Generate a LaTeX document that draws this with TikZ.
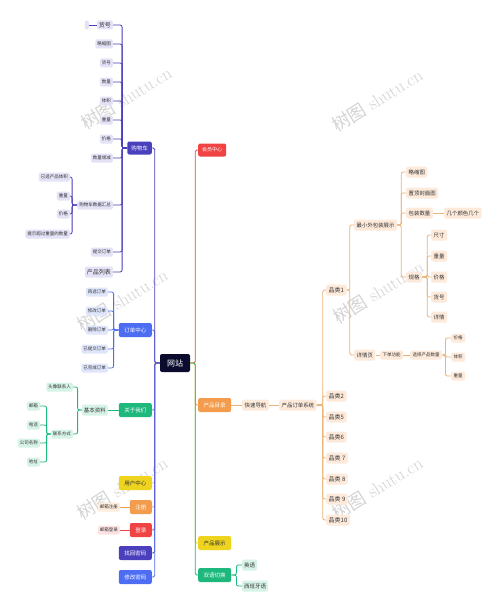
\documentclass[tikz,border=0pt]{standalone}
\usepackage{fontspec}
\newfontfamily\cjk{Noto Sans CJK SC}
\definecolor{navy}{HTML}{0B0B2E}
\definecolor{cind}{HTML}{4A3FBD}
\definecolor{cblue}{HTML}{4D6EF2}
\definecolor{cgreen}{HTML}{1CB87C}
\definecolor{cyellow}{HTML}{EED41E}
\definecolor{corange}{HTML}{F39C4E}
\definecolor{cred}{HTML}{F04444}
\definecolor{lav}{HTML}{E4E2F6}
\definecolor{lblue}{HTML}{DFE6FC}
\definecolor{lgreen}{HTML}{D7F3E7}
\definecolor{beige}{HTML}{FDEADB}
\definecolor{lpink}{HTML}{FDE3E3}
\definecolor{lorange}{HTML}{FDEBDC}
\definecolor{oline}{HTML}{EAB47A}
\definecolor{txt}{HTML}{333333}
\tikzset{
  leaf/.style={font=\cjk\fontsize{4.5}{5}\selectfont, text=txt, rounded corners=1.5pt, inner xsep=2pt, inner ysep=0pt, minimum height=9pt},
  lp/.style={leaf, fill=lav},
  lb/.style={leaf, fill=lblue},
  lg/.style={leaf, fill=lgreen},
  rleaf/.style={font=\cjk\fontsize{5.4}{6}\selectfont, text=txt, rounded corners=2pt, inner xsep=2.5pt, inner ysep=0pt, minimum height=11pt, fill=beige},
  mainbox/.style={font=\cjk\fontsize{5.5}{6}\selectfont, text=white, rounded corners=2pt, inner xsep=5.5pt, inner ysep=0pt, minimum height=14pt},
  conn/.style={line width=0.8pt, rounded corners=2pt},
  wm/.style={font=\fontsize{18}{18}\selectfont, text=black!17, rotate=32}
}
\begin{document}
\begin{tikzpicture}[x=1pt,y=-1pt]
\useasboundingbox (0,0) rectangle (500,610);
\fill[white] (0,0) rectangle (500,610);
% watermarks
\node[wm] at (126,98) {{\cjk 树图} shutu.cn};
\node[wm] at (377,100) {{\cjk 树图} shutu.cn};
\node[wm] at (122,300) {{\cjk 树图} shutu.cn};
\node[wm] at (378,292) {{\cjk 树图} shutu.cn};
\node[wm] at (122,488) {{\cjk 树图} shutu.cn};
\node[wm] at (377,488) {{\cjk 树图} shutu.cn};

% root
\node[mainbox, fill=navy, font=\cjk\fontsize{8}{9}\selectfont, minimum height=18pt, inner xsep=7pt] (root) at (175,363) {网站};

% left main branches
\node[mainbox, fill=cind, anchor=east, minimum height=13pt, inner xsep=4pt] (gwc) at (152,148) {购物车};
\node[mainbox, fill=cblue, anchor=east] (ddzx) at (152,330) {订单中心};
\node[mainbox, fill=cgreen, anchor=east] (gywm) at (152,410) {关于我们};
\node[mainbox, fill=cyellow, text=txt, anchor=east] (yhzx) at (152,483) {用户中心};
\node[mainbox, fill=corange, anchor=east] (zc) at (152,507) {注册};
\node[mainbox, fill=cred, anchor=east] (dl) at (152,530) {登录};
\node[mainbox, fill=cind, anchor=east] (zhmm) at (152,553) {找回密码};
\node[mainbox, fill=cblue, anchor=east] (xgmm) at (152,577) {修改密码};

% right main branches
\node[mainbox, fill=cred, anchor=west, minimum height=13pt, inner xsep=4pt, font=\cjk\fontsize{5}{6}\selectfont] (hyzx) at (198,150) {会员中心};
\node[mainbox, fill=corange, anchor=west] (cpml) at (198,405) {产品目录};
\node[mainbox, fill=cyellow, text=txt, anchor=west] (cpzs) at (198,543) {产品展示};
\node[mainbox, fill=cgreen, anchor=west] (syqh) at (198,575) {双语切换};

% main connectors
\foreach \n/\c in {ddzx/cblue, gywm/cgreen, yhzx/cyellow, zc/corange, dl/cred, zhmm/cind, gwc/cind, xgmm/cblue}
  \draw[conn, \c, rounded corners=1.5pt] (root.west) -- ++(-5,0) |- (\n.east);
\foreach \n/\c in {hyzx/cred, cpml/corange, cpzs/cyellow, syqh/cgreen}
  \draw[conn, \c, rounded corners=1.5pt] (root.east) -- ++(5,0) |- (\n.west);

% shopping cart children
\node[lp, anchor=east, font=\cjk\fontsize{6}{7}\selectfont] (g1) at (113,25) {货号};
\node[lp, anchor=east, minimum width=4pt, inner xsep=0pt] (g0) at (89,25) {};
\node[lp, anchor=east] (g2) at (113,44) {略缩图};
\node[lp, anchor=east] (g3) at (113,63) {货号};
\node[lp, anchor=east] (g4) at (113,82) {数量};
\node[lp, anchor=east] (g5) at (113,101) {体积};
\node[lp, anchor=east] (g6) at (113,120) {重量};
\node[lp, anchor=east] (g7) at (113,139) {价格};
\node[lp, anchor=east] (g8) at (113,158) {数量增减};
\node[lp, anchor=east] (g9) at (113,205) {购物车数据汇总};
\node[lp, anchor=east] (g10) at (113,252) {提交订单};
\node[lp, anchor=east, font=\cjk\fontsize{6}{7}\selectfont, minimum height=11pt] (g11) at (113,272) {产品列表};
\node[lp, anchor=east] (h1) at (70,177) {已选产品体积};
\node[lp, anchor=east] (h2) at (70,196) {重量};
\node[lp, anchor=east] (h3) at (70,214) {价格};
\node[lp, anchor=east] (h4) at (70,234) {提示超过重量的数量};
\foreach \n in {g1,g2,g3,g4,g5,g6,g7,g8,g9,g10,g11}
  \draw[conn, cind] (gwc.west) -- ++(-5,0) |- (\n.east);
\draw[conn, cind] (g1.west) -- (g0.east);
\foreach \n in {h1,h2,h3,h4}
  \draw[conn, cind] (g9.west) -- ++(-5,0) |- (\n.east);

% order center children
\node[lb, anchor=east] (o1) at (108,292) {再选订单};
\node[lb, anchor=east] (o2) at (108,311) {修改订单};
\node[lb, anchor=east] (o3) at (108,330) {删除订单};
\node[lb, anchor=east] (o4) at (108,349) {已提交订单};
\node[lb, anchor=east] (o5) at (108,368) {已完成订单};
\foreach \n in {o1,o2,o3,o4,o5}
  \draw[conn, cblue] (ddzx.west) -- ++(-5,0) |- (\n.east);

% about us
\node[lg, anchor=east, font=\cjk\fontsize{5.5}{6}\selectfont, minimum height=11pt] (jb) at (108,410) {基本资料};
\node[lg, anchor=east] (a1) at (73,387) {头像联系人};
\node[lg, anchor=east] (a2) at (73,434) {联系方式};
\node[lg, anchor=east] (b1) at (40,406) {邮箱};
\node[lg, anchor=east] (b2) at (40,425) {电话};
\node[lg, anchor=east] (b3) at (40,443) {公司名称};
\node[lg, anchor=east] (b4) at (40,462) {地址};
\draw[conn, cgreen] (gywm.west) -- (jb.east);
\foreach \n in {a1,a2}
  \draw[conn, cgreen] (jb.west) -- ++(-4,0) |- (\n.east);
\foreach \n in {b1,b2,b3,b4}
  \draw[conn, cgreen] (a2.west) -- ++(-4,0) |- (\n.east);

% register / login
\node[leaf, fill=lorange, anchor=east] (zc1) at (120,507) {邮箱注册};
\node[leaf, fill=lpink, anchor=east] (dl1) at (120,530) {邮箱登录};
\draw[conn, corange] (zc.west) -- (zc1.east);
\draw[conn, cred] (dl.west) -- (dl1.east);

% product catalog
\node[rleaf, anchor=west] (k1) at (242,405) {快速导航};
\node[rleaf, anchor=west] (k2) at (279,405) {产品订单系统};
\draw[conn, oline] (cpml.east) -- (k1.west);
\draw[conn, oline] (k1.east) -- (k2.west);
\node[rleaf, anchor=west, font=\cjk\fontsize{6}{7}\selectfont] (p1) at (326,290) {品类1};
\node[rleaf, anchor=west, font=\cjk\fontsize{6}{7}\selectfont] (p2) at (326,396) {品类2};
\node[rleaf, anchor=west, font=\cjk\fontsize{6}{7}\selectfont] (p5) at (326,417) {品类5};
\node[rleaf, anchor=west, font=\cjk\fontsize{6}{7}\selectfont] (p6) at (326,437) {品类6};
\node[rleaf, anchor=west, font=\cjk\fontsize{6}{7}\selectfont] (p7) at (326,458) {品类 7};
\node[rleaf, anchor=west, font=\cjk\fontsize{6}{7}\selectfont] (p8) at (326,479) {品类 8};
\node[rleaf, anchor=west, font=\cjk\fontsize{6}{7}\selectfont] (p9) at (326,499) {品类 9};
\node[rleaf, anchor=west, font=\cjk\fontsize{6}{7}\selectfont] (p10) at (326,520) {品类10};
\foreach \n in {p1,p2,p5,p6,p7,p8,p9,p10}
  \draw[conn, oline] (k2.east) -- ++(6,0) |- (\n.west);

\node[rleaf, anchor=west] (m1) at (354,225) {最小外包装展示};
\node[rleaf, anchor=west] (m2) at (354,355) {详情页};
\foreach \n in {m1,m2}
  \draw[conn, oline] (p1.east) -- ++(3,0) |- (\n.west);

\node[rleaf, anchor=west] (s1) at (406,172) {略缩图};
\node[rleaf, anchor=west] (s2) at (406,193) {置顶封面图};
\node[rleaf, anchor=west] (s3) at (406,213) {包装数量};
\node[rleaf, anchor=west] (s4) at (406,277) {规格};
\node[rleaf, anchor=west] (s5) at (444,213) {几个颜色几个};
\foreach \n in {s1,s2,s3,s4}
  \draw[conn, oline] (m1.east) -- ++(4,0) |- (\n.west);
\draw[conn, oline] (s3.east) -- (s5.west);

\node[rleaf, anchor=west] (t1) at (431,235) {尺寸};
\node[rleaf, anchor=west] (t2) at (431,256) {重量};
\node[rleaf, anchor=west] (t3) at (431,277) {价格};
\node[rleaf, anchor=west] (t4) at (431,297) {货号};
\node[rleaf, anchor=west] (t5) at (431,317) {详情};
\foreach \n in {t1,t2,t3,t4,t5}
  \draw[conn, oline] (s4.east) -- ++(5,0) |- (\n.west);

\node[rleaf, anchor=west, font=\cjk\fontsize{4.5}{5}\selectfont, minimum height=9pt] (d1) at (380,355) {下单功能};
\node[rleaf, anchor=west, font=\cjk\fontsize{4.5}{5}\selectfont, minimum height=9pt] (d2) at (410,355) {选择产品数量};
\node[rleaf, anchor=west, font=\cjk\fontsize{4.5}{5}\selectfont, minimum height=9pt] (e1) at (451,338) {价格};
\node[rleaf, anchor=west, font=\cjk\fontsize{4.5}{5}\selectfont, minimum height=9pt] (e2) at (451,357) {体积};
\node[rleaf, anchor=west, font=\cjk\fontsize{4.5}{5}\selectfont, minimum height=9pt] (e3) at (451,376) {重量};
\draw[conn, oline] (m2.east) -- (d1.west);
\draw[conn, oline] (d1.east) -- (d2.west);
\foreach \n in {e1,e2,e3}
  \draw[conn, oline] (d2.east) -- ++(3,0) |- (\n.west);

% bilingual
\node[lg, anchor=west, font=\cjk\fontsize{5.5}{6}\selectfont, minimum height=11pt] (y1) at (242,565) {英语};
\node[lg, anchor=west, font=\cjk\fontsize{5.5}{6}\selectfont, minimum height=11pt] (y2) at (242,586) {西班牙语};
\foreach \n in {y1,y2}
  \draw[conn, cgreen] (syqh.east) -- ++(5,0) |- (\n.west);
\end{tikzpicture}
\end{document}
